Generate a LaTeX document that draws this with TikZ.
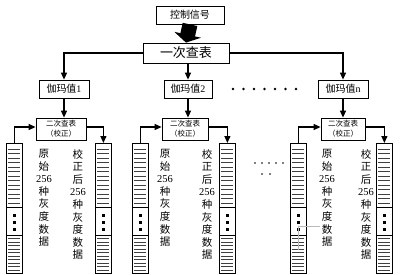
\documentclass[tikz,border=0pt]{standalone}
\usepackage{fontspec}
\setmainfont{Liberation Serif}
\newfontfamily\cjk{Noto Sans CJK SC}
\usetikzlibrary{arrows.meta,calc}
\newcommand\stripes[1]{%
  \begin{scope}[shift={(#1.north west)}]
    \foreach \yy in {6,10.5,...,60} \draw[stripe] (2,\yy) -- (14,\yy);
    \draw[line width=0.8pt] (0,64) -- (16,64);
    \foreach \yy in {71,78,85} \fill (7,\yy) rectangle (9.5,\yy+3);
    \draw[line width=0.8pt] (0,92) -- (16,92);
    \foreach \yy in {95.5,99,...,127} \draw[stripe] (2,\yy) -- (14,\yy);
  \end{scope}}
\begin{document}
\begin{tikzpicture}[x=1pt,y=-1pt,
  box/.style={draw, line width=0.8pt, inner sep=0pt, align=center, font=\cjk\fontsize{10}{12}\selectfont},
  col/.style={draw, line width=0.8pt, minimum width=16pt, minimum height=130pt, inner sep=0pt, anchor=north west},
  stripe/.style={line width=0.7pt, black!75},
  arr/.style={line width=1.2pt, -{Triangle[length=7pt,width=6pt]}},
  vtext/.style={align=center, inner sep=0pt, anchor=north, font=\fontsize{10.5}{12.6}\selectfont},
]
\useasboundingbox (0,0) rectangle (400,274);

\node[box, minimum width=68pt, minimum height=18pt] (ctrl) at (190,15) {控制信号};
\node[box, minimum width=86pt, minimum height=20pt, font=\cjk\fontsize{13}{15}\selectfont] (yici) at (186,53) {一次查表};

\node[box, minimum width=50pt, minimum height=18pt] (g1) at (64,89) {伽玛值{\rmfamily 1}};
\node[box, minimum width=48pt, minimum height=18pt] (g2) at (188,89) {伽玛值{\rmfamily 2}};
\node[box, minimum width=50pt, minimum height=18pt] (gN) at (343,89) {伽玛值{\rmfamily n}};

\node[box, minimum width=50pt, minimum height=22pt, font=\cjk\fontsize{7.5}{10}\selectfont] (b1) at (61,129) {二次查表\\（校正）};
\node[box, minimum width=46pt, minimum height=22pt, font=\cjk\fontsize{7.5}{10}\selectfont] (b2) at (185,129) {二次查表\\（校正）};
\node[box, minimum width=44pt, minimum height=22pt, font=\cjk\fontsize{7.5}{10}\selectfont] (b3) at (343,129) {二次查表\\（校正）};

\node[col] (c1L) at (6,143) {};
\node[col] (c1R) at (95,143) {};
\node[col] (c2L) at (132,143) {};
\node[col] (c2R) at (219,143) {};
\node[col] (c3L) at (290,143) {};
\node[col] (c3R) at (376,143) {};
\stripes{c1L}\stripes{c1R}\stripes{c2L}\stripes{c2R}\stripes{c3L}\stripes{c3R}

\foreach \xx/\nm in {44/t1L,165/t2L,327/t3L}
  \node[vtext] (\nm) at (\xx,149) {{\cjk 原}\\{\cjk 始}\\256\\{\cjk 种}\\{\cjk 灰}\\{\cjk 度}\\{\cjk 数}\\{\cjk 据}};
\foreach \xx/\nm in {78/t1R,207/t2R,366/t3R}
  \node[vtext] (\nm) at (\xx,149) {{\cjk 校}\\{\cjk 正}\\{\cjk 后}\\256\\{\cjk 种}\\{\cjk 灰}\\{\cjk 度}\\{\cjk 数}\\{\cjk 据}};

% thick arrow
\draw[line width=15pt, -{Triangle[length=8pt,width=27pt]}] (ctrl.south) -- (yici.north);

% first-level connectors
\draw[arr] (yici.west) -| (g1.north);
\draw[arr] (yici.east) -| (gN.north);
\draw[arr] (g2.north |- yici.south) -- (g2.north);

% gamma to second-level
\draw[arr] (g1.south) -- (g1.south |- b1.north);
\draw[arr] (g2.south) -- (g2.south |- b2.north);
\draw[arr] (gN.south) -- (gN.south |- b3.north);

% columns to/from second-level tables
\draw[arr] (c1L.north) |- ([yshift=2pt]b1.west);
\draw[arr] ([yshift=2pt]b1.east) -| (c1R.north);
\draw[arr] (c2L.north) |- ([yshift=2pt]b2.west);
\draw[arr] ([yshift=2pt]b2.east) -| (c2R.north);
\draw[arr] (c3L.north) |- ([yshift=2pt]b3.west);
\draw[arr] ([yshift=2pt]b3.east) -| (c3R.north);

% ellipsis dots
\foreach \xx in {233,243.5,...,297} \fill (\xx,89) circle (1.3);
\foreach \xx in {255,262,...,283} \fill (\xx,163) circle (0.9);
\foreach \xx in {262,270} \fill (\xx,174) circle (0.9);

% faint gray line in third group
\draw[gray!55, line width=0.5pt] (298,250) -- (298,226) -- (320,226);
\end{tikzpicture}
\end{document}
